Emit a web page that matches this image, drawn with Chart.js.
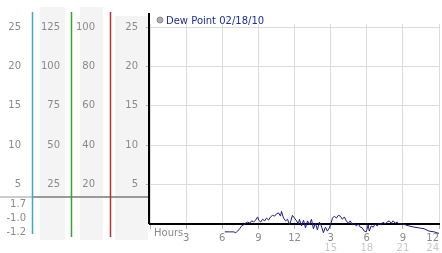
<!DOCTYPE html>
<html>
<head>
<meta charset="utf-8">
<script src="https://cdn.jsdelivr.net/npm/chart.js@4/dist/chart.umd.min.js"></script>
<style>
  html, body { margin: 0; padding: 0; background: #fff; }
</style>
</head>
<body>
<canvas id="dew-chart" width="442" height="253"></canvas>
<script>
 // dew point readings, hours since midnight
 const hours = [6.21, 6.62, 6.95, 7.12, 7.28, 7.45, 7.61, 7.78, 7.94, 8.11, 8.28, 8.44, 8.61, 8.77, 8.94,
    9.02, 9.19, 9.35, 9.52, 9.68, 9.85, 10.01, 10.18, 10.35, 10.51, 10.68, 10.84, 10.92, 11.09, 11.26,
    11.42, 11.59, 11.67, 11.83, 12.0, 12.17, 12.33, 12.41, 12.58, 12.75, 12.91, 13.08, 13.24, 13.41,
    13.57, 13.74, 13.9, 14.07, 14.23, 14.4, 14.57, 14.73, 14.9, 15.06, 15.15, 15.31, 15.48, 15.64,
    15.81, 15.97, 16.14, 16.3, 16.47, 16.63, 16.8, 16.97, 17.13, 17.3, 17.46, 17.63, 17.79, 17.96,
    18.12, 18.21, 18.37, 18.54, 18.7, 18.87, 19.04, 19.2, 19.37, 19.53, 19.7, 19.86, 20.03, 20.19,
    20.36, 20.52, 20.69, 20.94, 21.19, 21.52, 21.93, 22.35, 22.76, 23.17, 23.59, 24.0];
 const dewPoint = [-1.0, -1.0, -1.0, -1.1, -0.9, -0.6, -0.25, -0.1, 0.1, 0.25, 0.1, 0.4, 0.25, 0.5, 0.9,
    0.5, 0.25, 0.6, 0.4, 0.75, 0.5, 0.9, 1.1, 1.0, 1.3, 1.4, 1.0, 1.6, 0.75, 0.4,
    0.6, -0.1, 0.25, 1.1, 0.75, 0.4, 0.0, 0.6, -0.25, 0.5, -0.5, 0.4, -0.1, 0.6,
    -0.6, 0.1, -0.75, 0.25, -0.25, -1.1, -0.4, -0.9, -0.5, 0.25, 0.75, 1.0, 0.75, 1.1,
    1.0, 0.6, 0.9, 0.4, 0.1, 0.4, -0.1, 0.1, -0.25, 0.0, -0.4, -0.5, -0.9, -1.0,
    -0.1, -0.9, -0.25, -0.4, 0.0, -0.25, 0.1, -0.1, 0.25, 0.0, 0.25, 0.4, 0.1, 0.4,
    0.1, 0.25, 0.0, 0.0, -0.1, -0.25, -0.4, -0.5, -0.6, -0.9, -1.0, -1.2];

 const hourTicks = [0, 3, 6, 9, 12, 15, 18, 21, 24];
 const hourLabels = ["", "3", "6", "9", "12", "3", "6", "9", "12"];
 const hourLabels2 = ["", "", "", "", "", "15", "18", "21", "24"];
 const dewTicks = [5, 10, 15, 20, 25];
 const col2Ticks = [25, 50, 75, 100, 125];
 const col3Ticks = [20, 40, 60, 80, 100];
 const stats = ["1.7", "-1.0", "-1.2"];
 const legendText = "Dew Point 02/18/10";

 const yTop = 25.4;
 Chart.defaults.font.family = "DejaVu Sans";
 Chart.defaults.font.size = 10;

 function setTicks(list) {
    return function (scale) {
        scale.ticks = list.map(v => ({ value: v }));
    };
 }
 function sideAxis(list, max, weight, width, pad) {
    return {
        position: "left",
        weight: weight,
        min: 0,
        max: max,
        afterBuildTicks: setTicks(list),
        afterFit: s => { s.width = width; },
        grid: { display: false, drawTicks: false },
        border: { display: false },
        ticks: { color: "#8a8a8a", padding: pad }
    };
 }

 const panelPlugin = {
    id: "panel",
    beforeDraw(chart) {
        const ctx = chart.ctx, a = chart.chartArea, s = chart.scales;
        ctx.save();
        ctx.fillStyle = "#f4f4f4";
        // grey bands behind the label columns: [scale, inset left, inset right, above top]
        [["c2", 7, 7, 17], ["c3", 8, 8, 17], ["y", 4, 2, 8]].forEach(b => {
            const sc = s[b[0]];
            ctx.fillRect(sc.left + b[1], a.top - b[3], sc.width - b[1] - b[2], a.bottom - a.top + b[3] + 16);
        });
        ctx.restore();
    },
    afterDraw(chart) {
        const ctx = chart.ctx, a = chart.chartArea, s = chart.scales;
        ctx.save();
        // separator above the stats
        let sepY = a.bottom - 27;
        ctx.lineWidth = 2;
        ctx.strokeStyle = "#cccccc";
        ctx.beginPath(); ctx.moveTo(0, sepY); ctx.lineTo(s.c1.right, sepY); ctx.stroke();
        ctx.strokeStyle = "#9a9a9a";
        ctx.beginPath(); ctx.moveTo(s.c1.right, sepY); ctx.lineTo(a.left, sepY); ctx.stroke();

        // coloured column lines
        ctx.lineWidth = 1.5;
        [["c1", "#39a9cc", 10], ["c2", "#34a334", 13], ["c3", "#b03232", 13]].forEach(c => {
            ctx.strokeStyle = c[1];
            ctx.beginPath();
            ctx.moveTo(s[c[0]].right - 0.5, a.top - 12);
            ctx.lineTo(s[c[0]].right - 0.5, a.bottom + c[2]);
            ctx.stroke();
        });
        // black left axis
        ctx.strokeStyle = "#000";
        ctx.lineWidth = 2;
        ctx.beginPath(); ctx.moveTo(a.left - 1, a.top - 11); ctx.lineTo(a.left - 1, a.bottom); ctx.stroke();

        // stats
        ctx.fillStyle = "#8a8a8a";
        ctx.textAlign = "right";
        ctx.textBaseline = "middle";
        ctx.font = "10px DejaVu Sans";
        stats.forEach((t, i) => ctx.fillText(t, 26, a.bottom - 20 + i * 14));

        // Hours label
        ctx.textAlign = "left";
        ctx.fillText("Hours", a.left + 4, a.bottom + 9);

        // legend
        ctx.fillStyle = "#b0b0b0";
        ctx.strokeStyle = "#8a8a8a";
        ctx.lineWidth = 1;
        ctx.beginPath(); ctx.arc(a.left + 10, a.top - 4, 3, 0, Math.PI * 2); ctx.fill(); ctx.stroke();
        ctx.fillStyle = "#1f2d9c";
        ctx.fillText(legendText, a.left + 16, a.top - 3);
        ctx.restore();
    }
 };

 new Chart(document.getElementById("dew-chart"), {
    type: "line",
    data: {
        datasets: [{
            label: legendText,
            data: hours.map((h, i) => ({ x: h, y: dewPoint[i] })),
            borderColor: "#1c1c8c",
            borderWidth: 1,
            pointRadius: 0,
            tension: 0,
            clip: false
        }]
    },
    options: {
        responsive: false,
        animation: false,
        layout: { padding: { top: 24, right: 2, left: 0, bottom: 0 } },
        plugins: { legend: { display: false }, tooltip: { enabled: false } },
        scales: {
            x: {
                type: "linear",
                min: 0,
                max: 24,
                afterBuildTicks: setTicks(hourTicks),
                afterFit: s => { s.height = 18; },
                grid: { color: "#dcdcdc", tickColor: "#b0b0b0", tickLength: 5 },
                border: { color: "#000", width: 2 },
                ticks: { color: "#8a8a8a", padding: 3, align: "inner", maxRotation: 0,
                    callback: v => hourLabels[hourTicks.indexOf(v)] }
            },
            x2: {
                type: "linear",
                position: "bottom",
                min: 0,
                max: 24,
                afterBuildTicks: setTicks(hourTicks),
                afterFit: s => { s.height = 11; },
                grid: { display: false, drawTicks: false },
                border: { display: false },
                ticks: { color: "#c8c8c8", padding: 0, align: "inner", maxRotation: 0,
                    callback: v => hourLabels2[hourTicks.indexOf(v)] }
            },
            y: {
                position: "left",
                weight: 0,
                min: 0,
                max: yTop,
                afterBuildTicks: setTicks(dewTicks),
                afterFit: s => { s.width = 39; },
                grid: { color: "#dcdcdc", tickColor: "#b0b0b0", tickLength: 4 },
                border: { display: false },
                ticks: { color: "#8a8a8a", padding: 8 }
            },
            c3: sideAxis(col3Ticks, yTop * 4, 1, 39, 16),
            c2: sideAxis(col2Ticks, yTop * 5, 2, 39, 12),
            c1: sideAxis(dewTicks, yTop, 3, 33, 12)
        }
    },
    plugins: [panelPlugin]
 });
</script>
</body>
</html>
